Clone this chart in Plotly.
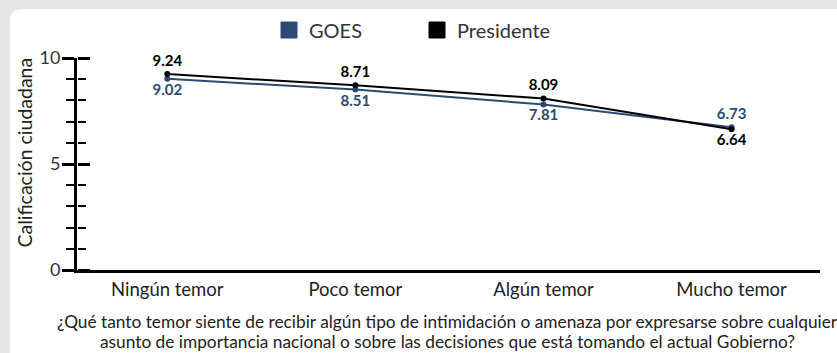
import plotly.graph_objects as go

categorias = ["Ningún temor", "Poco temor", "Algún temor", "Mucho temor"]
goes = [9.02, 8.51, 7.81, 6.73]
presidente = [9.24, 8.71, 8.09, 6.64]
pos_goes = ["bottom center", "bottom center", "bottom center", "top center"]
pos_presidente = ["top center", "top center", "top center", "bottom center"]

titulo_y = "Calificación ciudadana"
pregunta = [
    "¿Qué tanto temor siente de recibir algún tipo de intimidación o amenaza "
    "por expresarse sobre cualquier",
    "asunto de importancia nacional o sobre las decisiones que está tomando "
    "el actual Gobierno?",
]

COLOR_GOES = "#2c4a72"
COLOR_PRES = "#000000"
FONT = "Lato, 'Open Sans', sans-serif"

W, H = 837, 353
L, R, T, B = 77, 17, 57, 83
pw, ph = W - L - R, H - T - B


def px_x(p):
    return (p - L) / pw


def px_y(p):
    return (H - B - p) / ph


fig = go.Figure()

fig.add_trace(go.Scatter(
    x=categorias, y=goes, mode="lines+markers+text",
    line=dict(color=COLOR_GOES, width=2), marker=dict(size=6, color=COLOR_GOES),
    text=[f"{v:.2f}" for v in goes], textposition=pos_goes,
    textfont=dict(family=FONT, size=15, color=COLOR_GOES, weight="bold"),
    cliponaxis=False, showlegend=False, hoverinfo="skip",
))
fig.add_trace(go.Scatter(
    x=categorias, y=presidente, mode="lines+markers+text",
    line=dict(color=COLOR_PRES, width=2), marker=dict(size=6, color=COLOR_PRES),
    text=[f"{v:.2f}" for v in presidente], textposition=pos_presidente,
    textfont=dict(family=FONT, size=15, color=COLOR_PRES, weight="bold"),
    cliponaxis=False, showlegend=False, hoverinfo="skip",
))

# square legend keys
for name, color in [("GOES", COLOR_GOES), ("Presidente", COLOR_PRES)]:
    fig.add_trace(go.Scatter(
        x=[None], y=[None], mode="markers", name=name,
        marker=dict(symbol="square", size=16, color=color,
                    line=dict(width=1, color=color)),
        hoverinfo="skip",
    ))

# companion axis carrying the inward half of the y ticks
fig.add_trace(go.Scatter(x=[None], y=[None], yaxis="y2", showlegend=False,
                         hoverinfo="skip"))

r = 12
x0, x1 = px_x(10), px_x(W + 20)
y0, y1 = px_y(8), px_y(H + 20)
rx, ry = r / pw, r / ph
card = (f"M {x0},{y1} L {x0},{y0 - ry} Q {x0},{y0} {x0 + rx},{y0} "
        f"L {x1},{y0} L {x1},{y1} Z")

yaxis_common = dict(
    range=[0, 10], dtick=5, tick0=0, ticks="outside",
    tickwidth=3, tickcolor="black", ticklen=12,
    minor=dict(dtick=1, tick0=0, ticks="outside", ticklen=8, tickwidth=2,
               tickcolor="black"),
    showgrid=False, zeroline=False, fixedrange=True,
)

annotations = [
    dict(text=line, xref="paper", yref="paper", x=px_x(447), y=px_y(yy),
         xanchor="center", yanchor="middle", showarrow=False,
         font=dict(size=17.3, color="#222222"))
    for line, yy in zip(pregunta, [322, 342])
]
annotations.append(dict(
    text=titulo_y, xref="paper", yref="paper", x=px_x(25), y=px_y(152),
    xanchor="center", yanchor="middle", textangle=-90, showarrow=False,
    font=dict(size=19.5, color="#222222"),
))

fig.update_layout(
    width=W, height=H,
    margin=dict(l=L, r=R, t=T, b=B),
    paper_bgcolor="#e6e6e6",
    plot_bgcolor="rgba(0,0,0,0)",
    font=dict(family=FONT, color="#333333"),
    shapes=[dict(type="path", path=card, xref="paper", yref="paper",
                 fillcolor="white", line=dict(width=0), layer="below")],
    xaxis=dict(
        range=[-0.48, 3.47], showgrid=False, zeroline=False,
        showline=True, linecolor="black", linewidth=2.5,
        ticks="", ticklabelstandoff=1,
        tickfont=dict(size=18.5, color="#222222"), fixedrange=True,
    ),
    yaxis=dict(
        **yaxis_common,
        showline=True, linecolor="black", linewidth=3,
        tickfont=dict(size=18, color="#333333"), ticklabelstandoff=-2,
    ),
    yaxis2=dict(
        **yaxis_common, side="right", anchor="free", position=0,
        overlaying="y", showline=False, showticklabels=False,
    ),
    legend=dict(
        orientation="h", x=px_x(269), xanchor="left", y=px_y(30), yanchor="middle",
        font=dict(size=20, color="#333333"), itemwidth=30, bgcolor="rgba(0,0,0,0)",
        entrywidthmode="pixels", entrywidth=103,
    ),
    annotations=annotations,
)

fig.write_html("out.html")
